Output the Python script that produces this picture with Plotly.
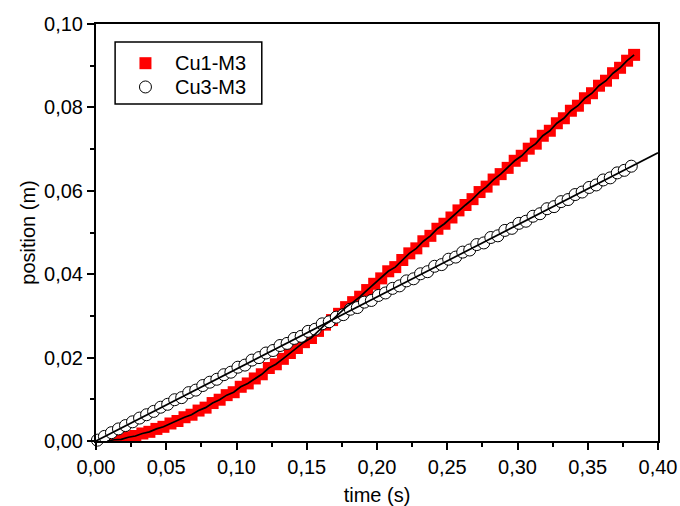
import plotly.graph_objects as go

# Cu1-M3: measured position vs time (red squares)
t_cu1 = [0.008, 0.013, 0.018, 0.023, 0.028, 0.033, 0.038, 0.043, 0.048, 0.053,
         0.058, 0.063, 0.068, 0.073, 0.078, 0.083, 0.088, 0.093, 0.098, 0.103,
         0.108, 0.113, 0.118, 0.123, 0.128, 0.133, 0.138, 0.143, 0.148, 0.153,
         0.158, 0.163, 0.168, 0.173, 0.178, 0.183, 0.188, 0.193, 0.198, 0.203,
         0.208, 0.213, 0.218, 0.223, 0.228, 0.233, 0.238, 0.243, 0.248, 0.253,
         0.258, 0.263, 0.268, 0.273, 0.278, 0.283, 0.288, 0.293, 0.298, 0.303,
         0.308, 0.313, 0.318, 0.323, 0.328, 0.333, 0.338, 0.343, 0.348, 0.353,
         0.358, 0.363, 0.368, 0.373, 0.378, 0.383]
x_cu1 = [0.0000, 0.0003, 0.0004, 0.0009, 0.0012, 0.0018, 0.0022, 0.0029, 0.0034, 0.0042,
         0.0048, 0.0057, 0.0063, 0.0073, 0.0080, 0.0091, 0.0099, 0.0110, 0.0117, 0.0130,
         0.0138, 0.0150, 0.0160, 0.0175, 0.0184, 0.0197, 0.0211, 0.0223, 0.0237, 0.0247,
         0.0264, 0.0279, 0.0290, 0.0305, 0.0321, 0.0333, 0.0346, 0.0362, 0.0377, 0.0390,
         0.0407, 0.0417, 0.0434, 0.0450, 0.0462, 0.0479, 0.0492, 0.0509, 0.0521, 0.0536,
         0.0553, 0.0566, 0.0580, 0.0597, 0.0610, 0.0627, 0.0640, 0.0655, 0.0672, 0.0684,
         0.0701, 0.0713, 0.0732, 0.0744, 0.0762, 0.0774, 0.0792, 0.0804, 0.0822, 0.0834,
         0.0852, 0.0864, 0.0882, 0.0895, 0.0912, 0.0926]

# Cu3-M3: measured position vs time (open circles)
t_cu3 = [0.001, 0.006, 0.011, 0.016, 0.021, 0.026, 0.031, 0.036, 0.041, 0.046,
         0.051, 0.056, 0.061, 0.066, 0.071, 0.076, 0.081, 0.086, 0.091, 0.096,
         0.101, 0.106, 0.111, 0.116, 0.121, 0.126, 0.131, 0.136, 0.141, 0.146,
         0.151, 0.156, 0.161, 0.166, 0.171, 0.176, 0.181, 0.186, 0.191, 0.196,
         0.201, 0.206, 0.211, 0.216, 0.221, 0.226, 0.231, 0.236, 0.241, 0.246,
         0.251, 0.256, 0.261, 0.266, 0.271, 0.276, 0.281, 0.286, 0.291, 0.296,
         0.301, 0.306, 0.311, 0.316, 0.321, 0.326, 0.331, 0.336, 0.341, 0.346,
         0.351, 0.356, 0.361, 0.366, 0.371, 0.376, 0.381]
x_cu3 = [0.0002, 0.0011, 0.0020, 0.0029, 0.0037, 0.0046, 0.0055, 0.0063, 0.0071, 0.0081,
         0.0088, 0.0099, 0.0104, 0.0116, 0.0122, 0.0133, 0.0141, 0.0148, 0.0159, 0.0165,
         0.0177, 0.0182, 0.0194, 0.0200, 0.0211, 0.0217, 0.0229, 0.0234, 0.0246, 0.0251,
         0.0263, 0.0268, 0.0281, 0.0286, 0.0297, 0.0303, 0.0316, 0.0320, 0.0333, 0.0337,
         0.0349, 0.0355, 0.0366, 0.0372, 0.0384, 0.0389, 0.0401, 0.0406, 0.0419, 0.0423,
         0.0436, 0.0441, 0.0453, 0.0458, 0.0471, 0.0475, 0.0488, 0.0492, 0.0505, 0.0510,
         0.0522, 0.0527, 0.0539, 0.0545, 0.0557, 0.0562, 0.0574, 0.0579, 0.0591, 0.0597,
         0.0608, 0.0614, 0.0626, 0.0631, 0.0643, 0.0649, 0.0659]

# Linear fit of Cu3-M3, evaluated at the ends of the time axis
fit_t = [0.0, 0.40]
fit_x = [0.0, 0.0691]

series_names = ["Cu1-M3", "Cu3-M3"]

FONT = "Liberation Sans, Arial, Helvetica, sans-serif"
RED = "#ff0000"

fig = go.Figure()

fig.add_trace(go.Scatter(
    x=t_cu1, y=x_cu1, mode="markers", name=series_names[0], showlegend=False,
    marker=dict(symbol="square", size=12, color=RED, line=dict(width=0)),
))
fig.add_trace(go.Scatter(
    x=t_cu3, y=x_cu3, mode="markers", name=series_names[1], showlegend=False,
    cliponaxis=False,
    marker=dict(symbol="circle", size=12, color="white",
                line=dict(width=1, color="black")),
))
# Curve through the Cu1-M3 data
fig.add_trace(go.Scatter(
    x=t_cu1, y=x_cu1, mode="lines", showlegend=False,
    line=dict(color="black", width=1.7),
))
fig.add_trace(go.Scatter(
    x=fit_t, y=fit_x, mode="lines", showlegend=False,
    line=dict(color="black", width=1.7),
))

# Compact legend box: frame, symbols (pixel-sized shapes) and labels
legend_box = dict(x0=0.034, x1=0.295, y0=0.808, y1=0.957)
rows_y = [0.906, 0.849]
sym_x = 0.088
text_x = 0.137

shapes = [dict(type="rect", xref="paper", yref="paper", layer="above",
               line=dict(color="black", width=1.5), fillcolor="white", **legend_box)]
shapes.append(dict(type="rect", xref="paper", yref="paper", layer="above",
                   xsizemode="pixel", ysizemode="pixel",
                   xanchor=sym_x, yanchor=rows_y[0],
                   x0=-6, x1=6, y0=-6, y1=6,
                   fillcolor=RED, line=dict(width=0)))
shapes.append(dict(type="circle", xref="paper", yref="paper", layer="above",
                   xsizemode="pixel", ysizemode="pixel",
                   xanchor=sym_x, yanchor=rows_y[1],
                   x0=-6, x1=6, y0=-6, y1=6,
                   fillcolor="white", line=dict(color="black", width=1)))

annotations = [
    dict(text=name, xref="paper", yref="paper", x=text_x, y=yy,
         xanchor="left", yanchor="middle", showarrow=False,
         font=dict(family=FONT, size=20, color="black"))
    for name, yy in zip(series_names, rows_y)
]

axis_common = dict(
    showgrid=False, zeroline=False, showline=True, linecolor="black",
    linewidth=2, mirror=True, ticks="outside", ticklen=7, tickwidth=1.5,
    tickcolor="black", tickformat=".2f", automargin=False,
    tickfont=dict(family=FONT, size=20, color="black"),
)

fig.update_layout(
    width=680, height=506,
    margin=dict(l=96, r=22, t=24, b=65),
    paper_bgcolor="white", plot_bgcolor="white",
    separators=",.",
    font=dict(family=FONT, size=20, color="black"),
    showlegend=False,
    shapes=shapes,
    annotations=annotations,
    xaxis=dict(
        range=[0, 0.40], dtick=0.05, tick0=0,
        title=dict(text="time (s)", font=dict(size=20), standoff=12),
        minor=dict(ticks="outside", ticklen=4, dtick=0.025, tickcolor="black", tickwidth=1.5),
        **axis_common,
    ),
    yaxis=dict(
        range=[0, 0.10], dtick=0.02, tick0=0,
        title=dict(text="position (m)", font=dict(size=20), standoff=3),
        minor=dict(ticks="outside", ticklen=4, dtick=0.01, tickcolor="black", tickwidth=1.5),
        **axis_common,
    ),
)

fig.write_html("out.html")
